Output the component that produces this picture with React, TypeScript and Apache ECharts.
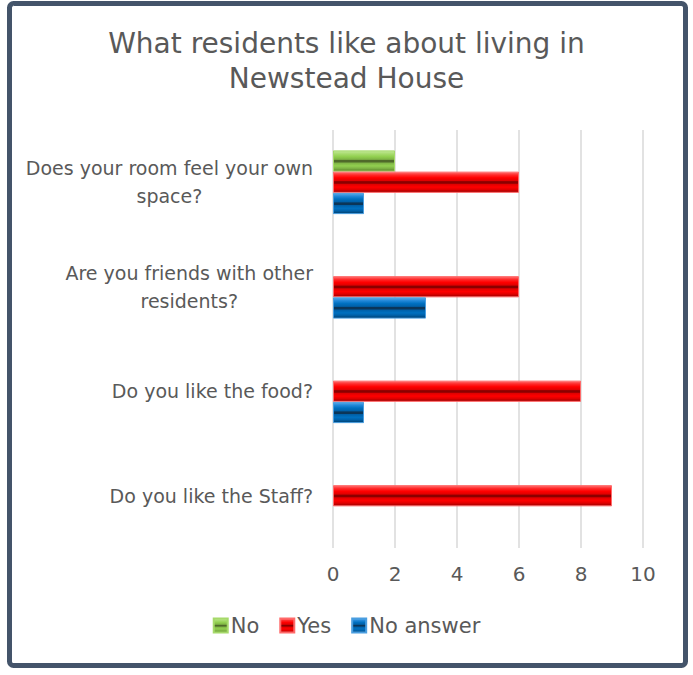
import React, { useEffect, useRef } from 'react';
import * as echarts from 'echarts';

const categories = [
  'Do you like the Staff?',
  'Do you like the food?',
  'Are you friends with other\nresidents?',
  'Does your room feel your own\nspace?',
];
const seriesNames = ['No', 'Yes', 'No answer'];
const noValues = [null, null, null, 2];
const yesValues = [9, 8, 6, 6];
const noAnswerValues = [null, 1, 3, 1];
const xMin = 0;
const xMax = 10;
const xInterval = 2;

const FONT = '"DejaVu Sans", sans-serif';
const TEXT = '#595959';
const LABEL_SIZE = 19;

function measure(text: string, size: number): number {
  const c = document.createElement('canvas').getContext('2d');
  if (!c) return text.length * size * 0.55;
  c.font = `${size}px ${FONT}`;
  return c.measureText(text).width;
}

function bevel(light: string, top: string, base: string, mid: string, stripe: string, bottom: string) {
  return new echarts.graphic.LinearGradient(0, 0, 0, 1, [
    { offset: 0, color: light },
    { offset: 0.14, color: top },
    { offset: 0.28, color: base },
    { offset: 0.42, color: mid },
    { offset: 0.47, color: stripe },
    { offset: 0.55, color: stripe },
    { offset: 0.6, color: mid },
    { offset: 0.74, color: base },
    { offset: 0.86, color: mid },
    { offset: 1, color: bottom },
  ]);
}

export default function App() {
  const ref = useRef<HTMLDivElement>(null);
  useEffect(() => {
    document.body.style.margin = '0';
    if (!ref.current) return;
    const chart = echarts.init(ref.current, null, { renderer: 'svg' });

    const rich: Record<string, any> = {};
    categories.forEach((c, i) => {
      const lines = c.split('\n');
      const w = Math.max(...lines.map((l) => measure(l, LABEL_SIZE)));
      rich['c' + i] = {
        width: w,
        align: 'center',
        fontSize: LABEL_SIZE,
        fontFamily: FONT,
        color: TEXT,
        lineHeight: 28,
      };
    });

    const colors = [
      { border: '#a6d96a', fill: bevel('#c4e89a', '#a9dc70', '#92d050', '#7fb445', '#4f6a2a', '#5a8228') },
      { border: '#ff6a6a', fill: bevel('#ff7070', '#ff2a2a', '#ff0000', '#e00000', '#8a0000', '#9a0000') },
      { border: '#4a9ee0', fill: bevel('#5aaae8', '#2288d8', '#0070c0', '#0060a8', '#0b3558', '#003e6c') },
    ];
    const datasets = [noValues, yesValues, noAnswerValues];

    chart.setOption({
      animation: false,
      textStyle: { fontFamily: FONT },
      title: {
        text: 'What residents like about living in\nNewstead House',
        left: 'center',
        top: 21,
        textStyle: {
          fontFamily: FONT,
          fontSize: 28,
          fontWeight: 'normal',
          color: TEXT,
          lineHeight: 35,
        },
      },
      legend: {
        bottom: 34,
        left: 'center',
        itemWidth: 14,
        itemHeight: 14,
        itemGap: 20,
        icon: 'rect',
        textStyle: { fontFamily: FONT, fontSize: 21, color: TEXT, padding: [0, 0, 0, -2] },
        data: seriesNames,
      },
      grid: { left: 333, right: 50, top: 130, bottom: 127, containLabel: false },
      xAxis: {
        type: 'value',
        min: xMin,
        max: xMax,
        interval: xInterval,
        axisLine: { show: false },
        axisTick: { show: false },
        splitLine: { show: true, lineStyle: { color: '#d9d9d9', width: 1.5 } },
        axisLabel: { fontFamily: FONT, fontSize: 20, color: TEXT, margin: 16 },
      },
      yAxis: {
        type: 'category',
        data: categories,
        axisLine: { show: false },
        axisTick: { show: false },
        axisLabel: {
          margin: 20,
          align: 'right',
          fontFamily: FONT,
          fontSize: LABEL_SIZE,
          color: TEXT,
          lineHeight: 28,
          rich,
          formatter: (value: string, index: number) =>
            value
              .split('\n')
              .map((l) => `{c${index}|${l}}`)
              .join('\n'),
        },
      },
      series: seriesNames.map((name, i) => ({
        name,
        type: 'bar',
        data: datasets[i],
        barGap: '0%',
        barCategoryGap: '39%',
        itemStyle: {
          color: colors[i].fill,
          borderColor: colors[i].border,
          borderWidth: 1,
        },
      })),
      graphic: [
        {
          type: 'rect',
          shape: { x: 9.5, y: 3.5, width: 676, height: 662, r: 4 },
          style: { fill: 'none', stroke: '#44546a', lineWidth: 5 },
          silent: true,
          z: 100,
        },
      ],
    });
    return () => chart.dispose();
  }, []);
  return <div ref={ref} style={{ width: 693, height: 675 }} />;
}
